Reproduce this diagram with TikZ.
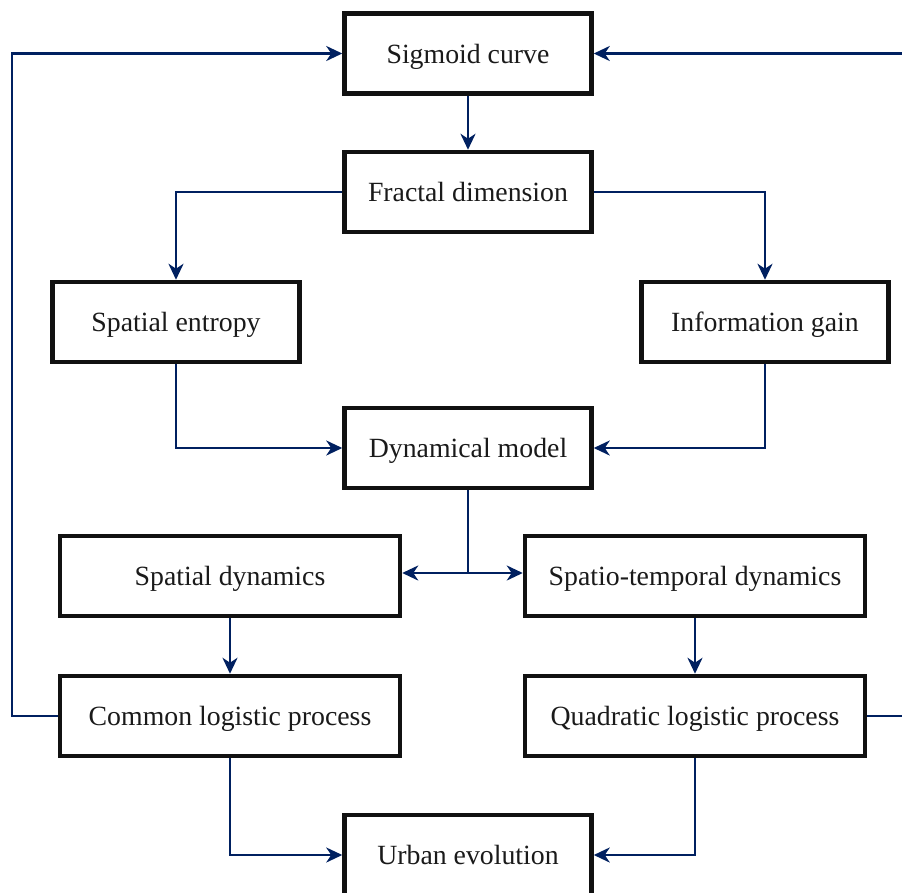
\documentclass[tikz,border=0pt]{standalone}
\usepackage{fontspec}
\setmainfont{Liberation Serif}
\usetikzlibrary{arrows.meta}
\definecolor{navy}{RGB}{0,32,96}
\definecolor{boxline}{RGB}{17,17,17}
\definecolor{txt}{RGB}{26,26,26}
\begin{document}
\begin{tikzpicture}[x=1pt,y=-1pt,
  box/.style={draw=boxline,line width=4.5pt,fill=white,minimum height=80pt,inner sep=0pt,
    text=txt,font=\fontsize{27.8}{33}\selectfont,text height=22pt,text depth=2.6pt},
  narrow/.style={box,minimum width=247pt},
  wide/.style={box,minimum width=340pt},
  conn/.style={draw=navy,line width=2.6pt,-{Stealth[length=16pt,width=15pt,inset=5pt]}},
  plain/.style={draw=navy,line width=2.6pt}]
\useasboundingbox (0,0) rectangle (902,892);
\begin{scope}
\clip (0,0) rectangle (902,892);
\node[narrow] (sig) at (468,53.5) {Sigmoid curve};
\node[narrow] (frac) at (468,192) {Fractal dimension};
\node[narrow] (ent) at (176,322) {Spatial entropy};
\node[narrow] (gain) at (765,322) {Information gain};
\node[narrow] (dyn) at (468,448) {Dynamical model};
\node[wide] (sdyn) at (230,576) {Spatial dynamics};
\node[wide] (stdyn) at (695,576) {Spatio-temporal dynamics};
\node[wide] (com) at (230,716) {Common logistic process};
\node[wide] (quad) at (695,716) {Quadratic logistic process};
\node[narrow] (urb) at (468,855) {Urban evolution};
\coordinate (junc) at (468,573);
\coordinate (lft) at (12,0);
\coordinate (rgt) at (910,0);

\draw[conn] (sig.south) -- (frac.north);
\draw[conn] (frac.west) -| (ent.north);
\draw[conn] (frac.east) -| (gain.north);
\draw[conn] (ent.south) |- (dyn.west);
\draw[conn] (gain.south) |- (dyn.east);
\draw[plain] (dyn.south) -- (junc);
\draw[conn] (junc) -- (sdyn.east |- junc);
\draw[conn] (junc) -- (stdyn.west |- junc);
\draw[conn] (sdyn.south) -- (com.north);
\draw[conn] (stdyn.south) -- (quad.north);
\draw[conn] (com.south) |- (urb.west);
\draw[conn] (quad.south) |- (urb.east);
\draw[conn] (com.west) -- (com.west -| lft) |- (sig.west);
\draw[conn] (quad.east) -- (quad.east -| rgt) |- (sig.east);
\end{scope}
\end{tikzpicture}
\end{document}
